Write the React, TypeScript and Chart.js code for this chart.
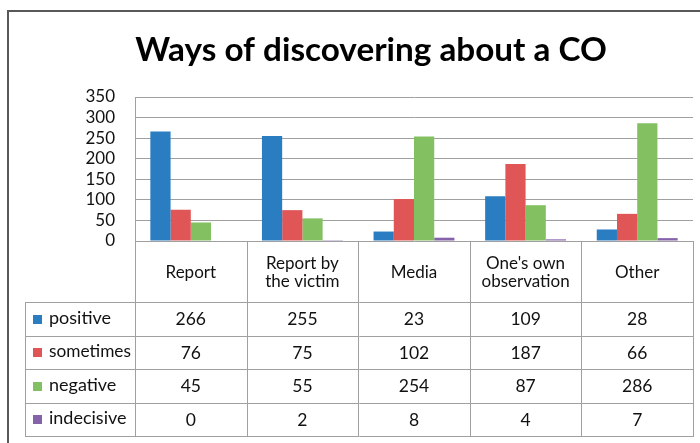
import React, { useEffect, useRef } from "react";
import { Chart, registerables } from "chart.js";

Chart.register(...registerables);

const chartTitle = "Ways of discovering about a CO";
const categories = ["Report", "Report by the victim", "Media", "One's own observation", "Other"];
const categoryLines = [["Report"], ["Report by", "the victim"], ["Media"], ["One's own", "observation"], ["Other"]];
const seriesNames = ["positive", "sometimes", "negative", "indecisive"];
const positive = [266, 255, 23, 109, 28];
const sometimes = [76, 75, 102, 187, 66];
const negative = [45, 55, 254, 87, 286];
const indecisive = [0, 2, 8, 4, 7];
const seriesValues = [positive, sometimes, negative, indecisive];
const seriesColors = ["#2A7DC1", "#E05656", "#83C061", "#8463AA"];
const yTicks = [0, 50, 100, 150, 200, 250, 300, 350];

const FONT = "Lato, 'Open Sans', sans-serif";
const GRID = "#a0a0a0";

const tablePlugin = {
  id: "tablePlugin",
  afterDraw(chart: any) {
    const ctx = chart.ctx as CanvasRenderingContext2D;
    const ca = chart.chartArea;
    const xs = chart.scales.x;
    const n = categories.length;
    const catW = (ca.right - ca.left) / n;
    const catRowBottom = 302;
    const rowH = 33.5;
    const tableLeft = 25;
    const tableBottom = catRowBottom + rowH * seriesNames.length;
    const px = (v: number) => Math.round(v) + 0.5;

    ctx.save();
    // outer frame
    ctx.strokeStyle = "#595959";
    ctx.lineWidth = 2;
    ctx.beginPath();
    ctx.moveTo(8, chart.height);
    ctx.lineTo(8, 11);
    ctx.lineTo(chart.width, 11);
    ctx.stroke();

    // title
    ctx.fillStyle = "#000";
    ctx.textAlign = "center";
    ctx.textBaseline = "middle";
    let ts = 31;
    ctx.font = `bold ${ts}px ${FONT}`;
    const tw = ctx.measureText(chartTitle).width;
    ts = (ts * 472) / tw;
    ctx.font = `bold ${ts}px ${FONT}`;
    ctx.fillText(chartTitle, 371, 50);

    // grid lines of category row and table
    ctx.strokeStyle = GRID;
    ctx.lineWidth = 1;
    ctx.beginPath();
    for (let k = 0; k <= n; k++) {
      const x = px(ca.left + k * catW);
      ctx.moveTo(x, ca.bottom);
      ctx.lineTo(x, tableBottom);
    }
    ctx.moveTo(px(tableLeft), catRowBottom);
    ctx.lineTo(px(tableLeft), tableBottom);
    for (let r = 0; r <= seriesNames.length; r++) {
      const y = px(catRowBottom + r * rowH);
      ctx.moveTo(tableLeft, y);
      ctx.lineTo(ca.right + 1, y);
    }
    ctx.stroke();

    // category labels
    ctx.fillStyle = "#111";
    ctx.font = `17px ${FONT}`;
    const midY = (ca.bottom + catRowBottom) / 2 + 1;
    categoryLines.forEach((lines, i) => {
      const cx = xs.getPixelForValue(i);
      const lh = 18;
      const y0 = midY - ((lines.length - 1) * lh) / 2;
      lines.forEach((ln, j) => ctx.fillText(ln, cx, y0 + j * lh));
    });

    // table rows
    seriesNames.forEach((name, r) => {
      const cy = catRowBottom + r * rowH + rowH / 2 + 1;
      ctx.fillStyle = seriesColors[r];
      ctx.fillRect(33, Math.round(cy - 5), 9, 9);
      ctx.fillStyle = "#111";
      ctx.textAlign = "left";
      let fs = 18;
      ctx.font = `${fs}px ${FONT}`;
      const w = ctx.measureText(name).width;
      if (w > 82) {
        fs = (fs * 82) / w;
        ctx.font = `${fs}px ${FONT}`;
      }
      ctx.fillText(name, 49, cy - 2);
      ctx.textAlign = "center";
      ctx.font = `17.5px ${FONT}`;
      seriesValues[r].forEach((v, i) => {
        ctx.fillText(String(v), xs.getPixelForValue(i), cy);
      });
    });
    ctx.restore();
  },
};

export default function App() {
  const ref = useRef<HTMLCanvasElement>(null);
  useEffect(() => {
    const chart = new Chart(ref.current!, {
      type: "bar",
      data: {
        labels: categories,
        datasets: seriesNames.map((name, i) => ({
          label: name,
          data: seriesValues[i],
          backgroundColor: seriesColors[i],
          borderWidth: 0,
          categoryPercentage: 0.725,
          barPercentage: 1.0,
        })),
      },
      options: {
        animation: false,
        responsive: false,
        layout: { padding: { top: 97, left: 0, right: 7, bottom: 202 } },
        plugins: { legend: { display: false }, title: { display: false }, tooltip: { enabled: false } },
        scales: {
          x: { display: false },
          y: {
            min: 0,
            max: 350,
            afterBuildTicks: (s: any) => {
              s.ticks = yTicks.map((v) => ({ value: v }));
            },
            afterFit: (s: any) => {
              s.width = 135;
            },
            grid: { color: GRID, drawTicks: false, lineWidth: 1 },
            border: { display: true, color: GRID },
            ticks: { padding: 20, autoSkip: false, color: "#111", font: { family: FONT, size: 17 } },
          },
        },
      },
      plugins: [tablePlugin],
    });
    return () => chart.destroy();
  }, []);
  return (
    <div style={{ position: "absolute", left: 0, top: 0, width: 700, height: 443, background: "#fff" }}>
      <canvas ref={ref} width={700} height={443} />
    </div>
  );
}
